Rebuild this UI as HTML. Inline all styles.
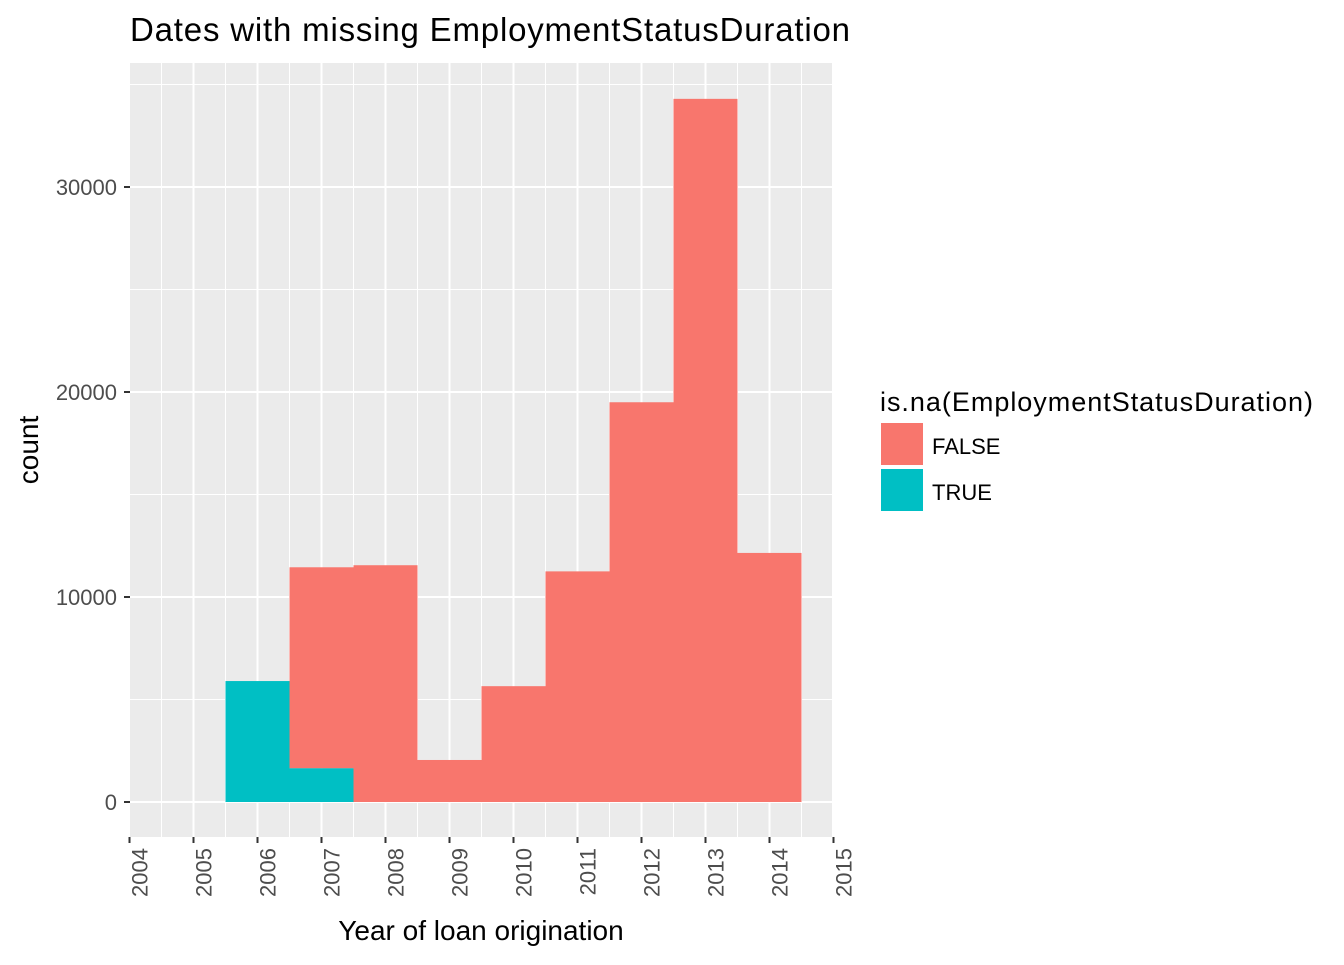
<!DOCTYPE html>
<html><head><meta charset="utf-8"><style>
body{margin:0;background:#fff}
svg text{font-family:"Liberation Sans",Arial,sans-serif}
</style></head><body>
<svg id="chart" width="1344" height="960" xmlns="http://www.w3.org/2000/svg">
<text x="130" y="41" font-size="33" textLength="720" fill="#000">Dates with missing  EmploymentStatusDuration</text>
<rect x="130" y="63" width="702" height="774" fill="#ebebeb"/>
<g id="grid"></g>
<g id="bars"></g>
<g id="axes"></g>
<text transform="translate(38,450) rotate(-90)" text-anchor="middle" font-size="28" fill="#000">count</text>
<text x="481" y="940" text-anchor="middle" font-size="28" fill="#000">Year of loan origination</text>
<g>
<text x="880" y="411" font-size="27" textLength="433" fill="#000">is.na(EmploymentStatusDuration)</text>
<rect x="881" y="423" width="42" height="42" fill="#F8766D"/>
<text x="932" y="454" font-size="22" fill="#000">FALSE</text>
<rect x="881" y="469" width="42" height="42" fill="#00BFC4"/>
<text x="932" y="500" font-size="22" fill="#000">TRUE</text>
</g>
</svg>
<script>
const years=[2006,2007,2008,2009,2010,2011,2012,2013,2014];
const falseCounts=[0,9800,11550,2050,5650,11250,19500,34300,12150];
const trueCounts=[5900,1650,0,0,0,0,0,0,0];
const yTicks=[0,10000,20000,30000];
const xTicks=[2004,2005,2006,2007,2008,2009,2010,2011,2012,2013,2014,2015];
const NS="http://www.w3.org/2000/svg";
const X=v=>129.5+(v-2004)*64;
const Y=v=>802-v*0.0205;
function mk(t,a,p){const e=document.createElementNS(NS,t);for(const k in a)e.setAttribute(k,a[k]);p.appendChild(e);return e;}
const grid=document.getElementById('grid'),bars=document.getElementById('bars'),axes=document.getElementById('axes');
for(let v=-5000;v<=35000;v+=5000){const y=Y(v);if(y<63||y>837)continue;
 const l=mk('line',{x1:130,x2:832,y1:y,y2:y,stroke:'#fff','stroke-width':v%10000===0?2:1},grid);
 
 }
for(let v=2004;v<=2015;v+=0.5){const x=X(v);if(x<130||x>832)continue;
 const l=mk('line',{x1:x,x2:x,y1:63,y2:837,stroke:'#fff','stroke-width':v%1===0?2:1},grid);
 
 }
years.forEach((yr,i)=>{
 const t=trueCounts[i],f=falseCounts[i],x0=X(yr-0.5),w=64;
 if(t>0){const r=mk('rect',{x:x0,y:Y(t),width:w,height:Y(0)-Y(t),fill:'#00BFC4'},bars);
  
  }
 if(f>0){const r=mk('rect',{x:x0,y:Y(t+f),width:w,height:Y(t)-Y(t+f),fill:'#F8766D'},bars);
  
  }
});
yTicks.forEach(v=>{const y=Y(v);
 const tk=mk('line',{x1:124,x2:130,y1:y,y2:y,stroke:'#333','stroke-width':2},axes);
 
 
 const t=mk('text',{x:117,y:y+8,'text-anchor':'end','font-size':22,fill:'#4d4d4d'},axes);
 t.textContent=v;
 
 });
xTicks.forEach(v=>{const x=X(v);
 const tk=mk('line',{x1:x,x2:x,y1:837,y2:843,stroke:'#333','stroke-width':2},axes);
 
 
 const t=mk('text',{transform:`translate(${x+18},848) rotate(-90)`,'text-anchor':'end','font-size':22,fill:'#4d4d4d'},axes);
 t.textContent=v;
 
 });
</script>
</body></html>
